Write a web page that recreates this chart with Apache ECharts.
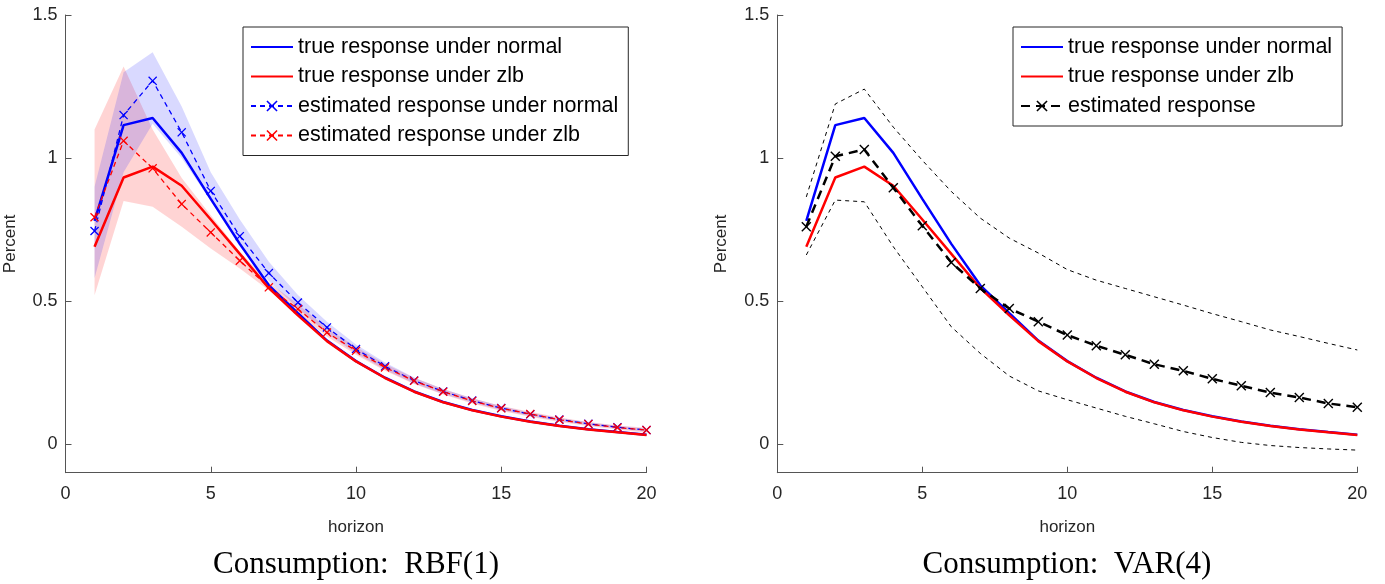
<!DOCTYPE html>
<html>
<head>
<meta charset="utf-8">
<script src="https://cdn.jsdelivr.net/npm/echarts@6/dist/echarts.min.js"></script>
<style>
  html, body { margin: 0; padding: 0; background: #fff; }
  #chart { width: 1385px; height: 584px; }
</style>
</head>
<body>
<div id="chart"></div>
<script>
// horizons 1..20
const horizon = [1, 2, 3, 4, 5, 6, 7, 8, 9, 10, 11, 12, 13, 14, 15, 16, 17, 18, 19, 20];

// true responses (same in both panels)
const trueNormal = [0.78, 1.115, 1.14, 1.018, 0.857, 0.70, 0.555, 0.458, 0.362, 0.29, 0.232, 0.184, 0.147, 0.119, 0.097, 0.079, 0.064, 0.052, 0.042, 0.033];
const trueZlb = [0.69, 0.932, 0.97, 0.903, 0.785, 0.665, 0.545, 0.45, 0.36, 0.289, 0.231, 0.183, 0.146, 0.118, 0.096, 0.078, 0.063, 0.051, 0.041, 0.032];

// left panel: RBF(1) estimates and bands
const estNormal = [0.745, 1.15, 1.27, 1.09, 0.885, 0.727, 0.598, 0.495, 0.408, 0.332, 0.272, 0.222, 0.184, 0.152, 0.126, 0.104, 0.086, 0.071, 0.059, 0.049];
const estZlb = [0.793, 1.06, 0.964, 0.839, 0.74, 0.641, 0.548, 0.472, 0.39, 0.326, 0.268, 0.221, 0.183, 0.151, 0.125, 0.105, 0.085, 0.07, 0.058, 0.049];
const bandNormalLo = [0.58, 0.95, 1.12, 1.0, 0.85, 0.69, 0.57, 0.475, 0.387, 0.318, 0.26, 0.212, 0.175, 0.145, 0.119, 0.098, 0.081, 0.066, 0.054, 0.044];
const bandNormalHi = [0.90, 1.30, 1.37, 1.18, 0.95, 0.785, 0.637, 0.521, 0.428, 0.348, 0.285, 0.233, 0.193, 0.16, 0.133, 0.11, 0.091, 0.076, 0.064, 0.054];
const bandZlbLo = [0.52, 0.85, 0.83, 0.76, 0.684, 0.614, 0.538, 0.455, 0.376, 0.312, 0.256, 0.21, 0.173, 0.142, 0.116, 0.096, 0.077, 0.063, 0.051, 0.04];
const bandZlbHi = [1.10, 1.32, 1.10, 0.93, 0.80, 0.672, 0.565, 0.49, 0.405, 0.34, 0.28, 0.232, 0.193, 0.16, 0.133, 0.113, 0.093, 0.077, 0.065, 0.057];

// right panel: VAR(4)
const estVar = [0.76, 1.006, 1.03, 0.896, 0.763, 0.635, 0.544, 0.474, 0.428, 0.381, 0.344, 0.312, 0.279, 0.256, 0.228, 0.204, 0.18, 0.163, 0.142, 0.129];
const varHi = [0.864, 1.189, 1.241, 1.108, 0.992, 0.883, 0.79, 0.72, 0.668, 0.61, 0.573, 0.544, 0.515, 0.486, 0.456, 0.428, 0.399, 0.376, 0.352, 0.329];
const varLo = [0.661, 0.853, 0.847, 0.69, 0.55, 0.41, 0.317, 0.238, 0.186, 0.155, 0.126, 0.097, 0.071, 0.044, 0.023, 0.006, -0.005, -0.012, -0.017, -0.021];

const yTicks = [0, 0.5, 1, 1.5];
const titles = ['Consumption:  RBF(1)', 'Consumption:  VAR(4)'];

const sans = 'Liberation Sans, Arial, sans-serif';
const crossPath = 'path://M0,1L1,0L5,4L9,0L10,1L6,5L10,9L9,10L5,6L1,10L0,9L4,5Z';

const pts = (ys) => horizon.map((h, i) => [h, ys[i]]);

function lineSeries(name, ys, idx, color, width, dash, marker) {
  return {
    type: 'line', name: name, xAxisIndex: idx, yAxisIndex: idx,
    data: pts(ys),
    symbol: marker ? crossPath : 'none',
    symbolSize: marker || 0,
    showSymbol: !!marker,
    itemStyle: { color: color },
    lineStyle: { color: color, width: width, type: dash || 'solid' },
    animation: false
  };
}

function bandSeries(name, lo, hi, idx, fill) {
  const data = horizon.map((h, i) => [h, lo[i], hi[i]]);
  return {
    type: 'custom', name: name, xAxisIndex: idx, yAxisIndex: idx, silent: true,
    data: data,
    encode: { x: 0, y: [1, 2] },
    renderItem(params, api) {
      if (params.dataIndex !== 0) return null;
      const poly = [];
      data.forEach(d => poly.push(api.coord([d[0], d[2]])));
      data.slice().reverse().forEach(d => poly.push(api.coord([d[0], d[1]])));
      return { type: 'polygon', shape: { points: poly }, style: { fill: fill } };
    },
    animation: false
  };
}

function xAxis(idx) {
  return {
    type: 'value', gridIndex: idx, min: 0, max: 20, interval: 5,
    name: 'horizon', nameLocation: 'middle', nameGap: 46,
    nameTextStyle: { fontFamily: sans, fontSize: 17, color: '#262626' },
    axisLine: { onZero: false, lineStyle: { color: '#555', width: 1 } },
    axisTick: { inside: true, length: 6, lineStyle: { color: '#555' } },
    axisLabel: { fontFamily: sans, fontSize: 18, color: '#262626', margin: 12 },
    splitLine: { show: false }
  };
}

function yAxis(idx) {
  return {
    type: 'value', gridIndex: idx, min: -0.1, max: 1.5,
    name: 'Percent', nameLocation: 'middle', nameGap: 47,
    nameTextStyle: { fontFamily: sans, fontSize: 17, color: '#262626' },
    axisLine: { show: true, onZero: false, lineStyle: { color: '#555', width: 1 } },
    axisTick: { show: true, inside: true, length: 6, customValues: yTicks, lineStyle: { color: '#555' } },
    axisLabel: { fontFamily: sans, fontSize: 18, color: '#262626', margin: 8, customValues: yTicks },
    splitLine: { show: false }
  };
}

// solid lines show no marker in the legend
function legendItem(name, solid) {
  return solid ? { name: name, itemStyle: { opacity: 0 } } : { name: name };
}

function legend(left, items) {
  return {
    orient: 'vertical', left: left, top: 27,
    padding: [9, 10, 9, 7], itemGap: 7.5, itemWidth: 42, itemHeight: 14,
    borderColor: '#262626', borderWidth: 1, backgroundColor: '#fff',
    selectedMode: false,
    textStyle: { fontFamily: sans, fontSize: 21.5, color: '#000' },
    data: items
  };
}

const chart = echarts.init(document.getElementById('chart'));

const option = {
  animation: false,
  grid: [
    { left: 65.5, top: 15, width: 581, height: 457.7 },
    { left: 777.3, top: 15, width: 580, height: 457.7 }
  ],
  xAxis: [xAxis(0), xAxis(1)],
  yAxis: [yAxis(0), yAxis(1)],
  legend: [
    legend(243, [
      legendItem('true response under normal', true),
      legendItem('true response under zlb', true),
      legendItem('estimated response under normal'),
      legendItem('estimated response under zlb')
    ]),
    legend(1013, [
      legendItem('true response under normal', true),
      legendItem('true response under zlb', true),
      legendItem('estimated response')
    ])
  ],
  graphic: [
    { type: 'text', x: 356, y: 565, style: { text: titles[0], font: '31px "Liberation Serif", serif', fill: '#000', textAlign: 'center', textVerticalAlign: 'middle' } },
    { type: 'text', x: 1067, y: 565, style: { text: titles[1], font: '31px "Liberation Serif", serif', fill: '#000', textAlign: 'center', textVerticalAlign: 'middle' } }
  ],
  series: [
    // left panel
    bandSeries('band zlb', bandZlbLo, bandZlbHi, 0, 'rgba(255,0,0,0.17)'),
    bandSeries('band normal', bandNormalLo, bandNormalHi, 0, 'rgba(0,0,255,0.15)'),
    lineSeries('true response under normal', trueNormal, 0, '#0000ff', 2.5),
    lineSeries('true response under zlb', trueZlb, 0, '#ff0000', 2.5),
    lineSeries('estimated response under normal', estNormal, 0, '#0000ff', 1.3, [5, 4], 9),
    lineSeries('estimated response under zlb', estZlb, 0, '#ff0000', 1.3, [5, 4], 9),
    // right panel
    lineSeries('var upper', varHi, 1, '#000', 1, [4, 4]),
    lineSeries('var lower', varLo, 1, '#000', 1, [4, 4]),
    lineSeries('true response under normal', trueNormal, 1, '#0000ff', 2.5),
    lineSeries('true response under zlb', trueZlb, 1, '#ff0000', 2.5),
    lineSeries('estimated response', estVar, 1, '#000', 2.5, [9, 6], 10)
  ]
};

chart.setOption(option);
</script>
</body>
</html>
